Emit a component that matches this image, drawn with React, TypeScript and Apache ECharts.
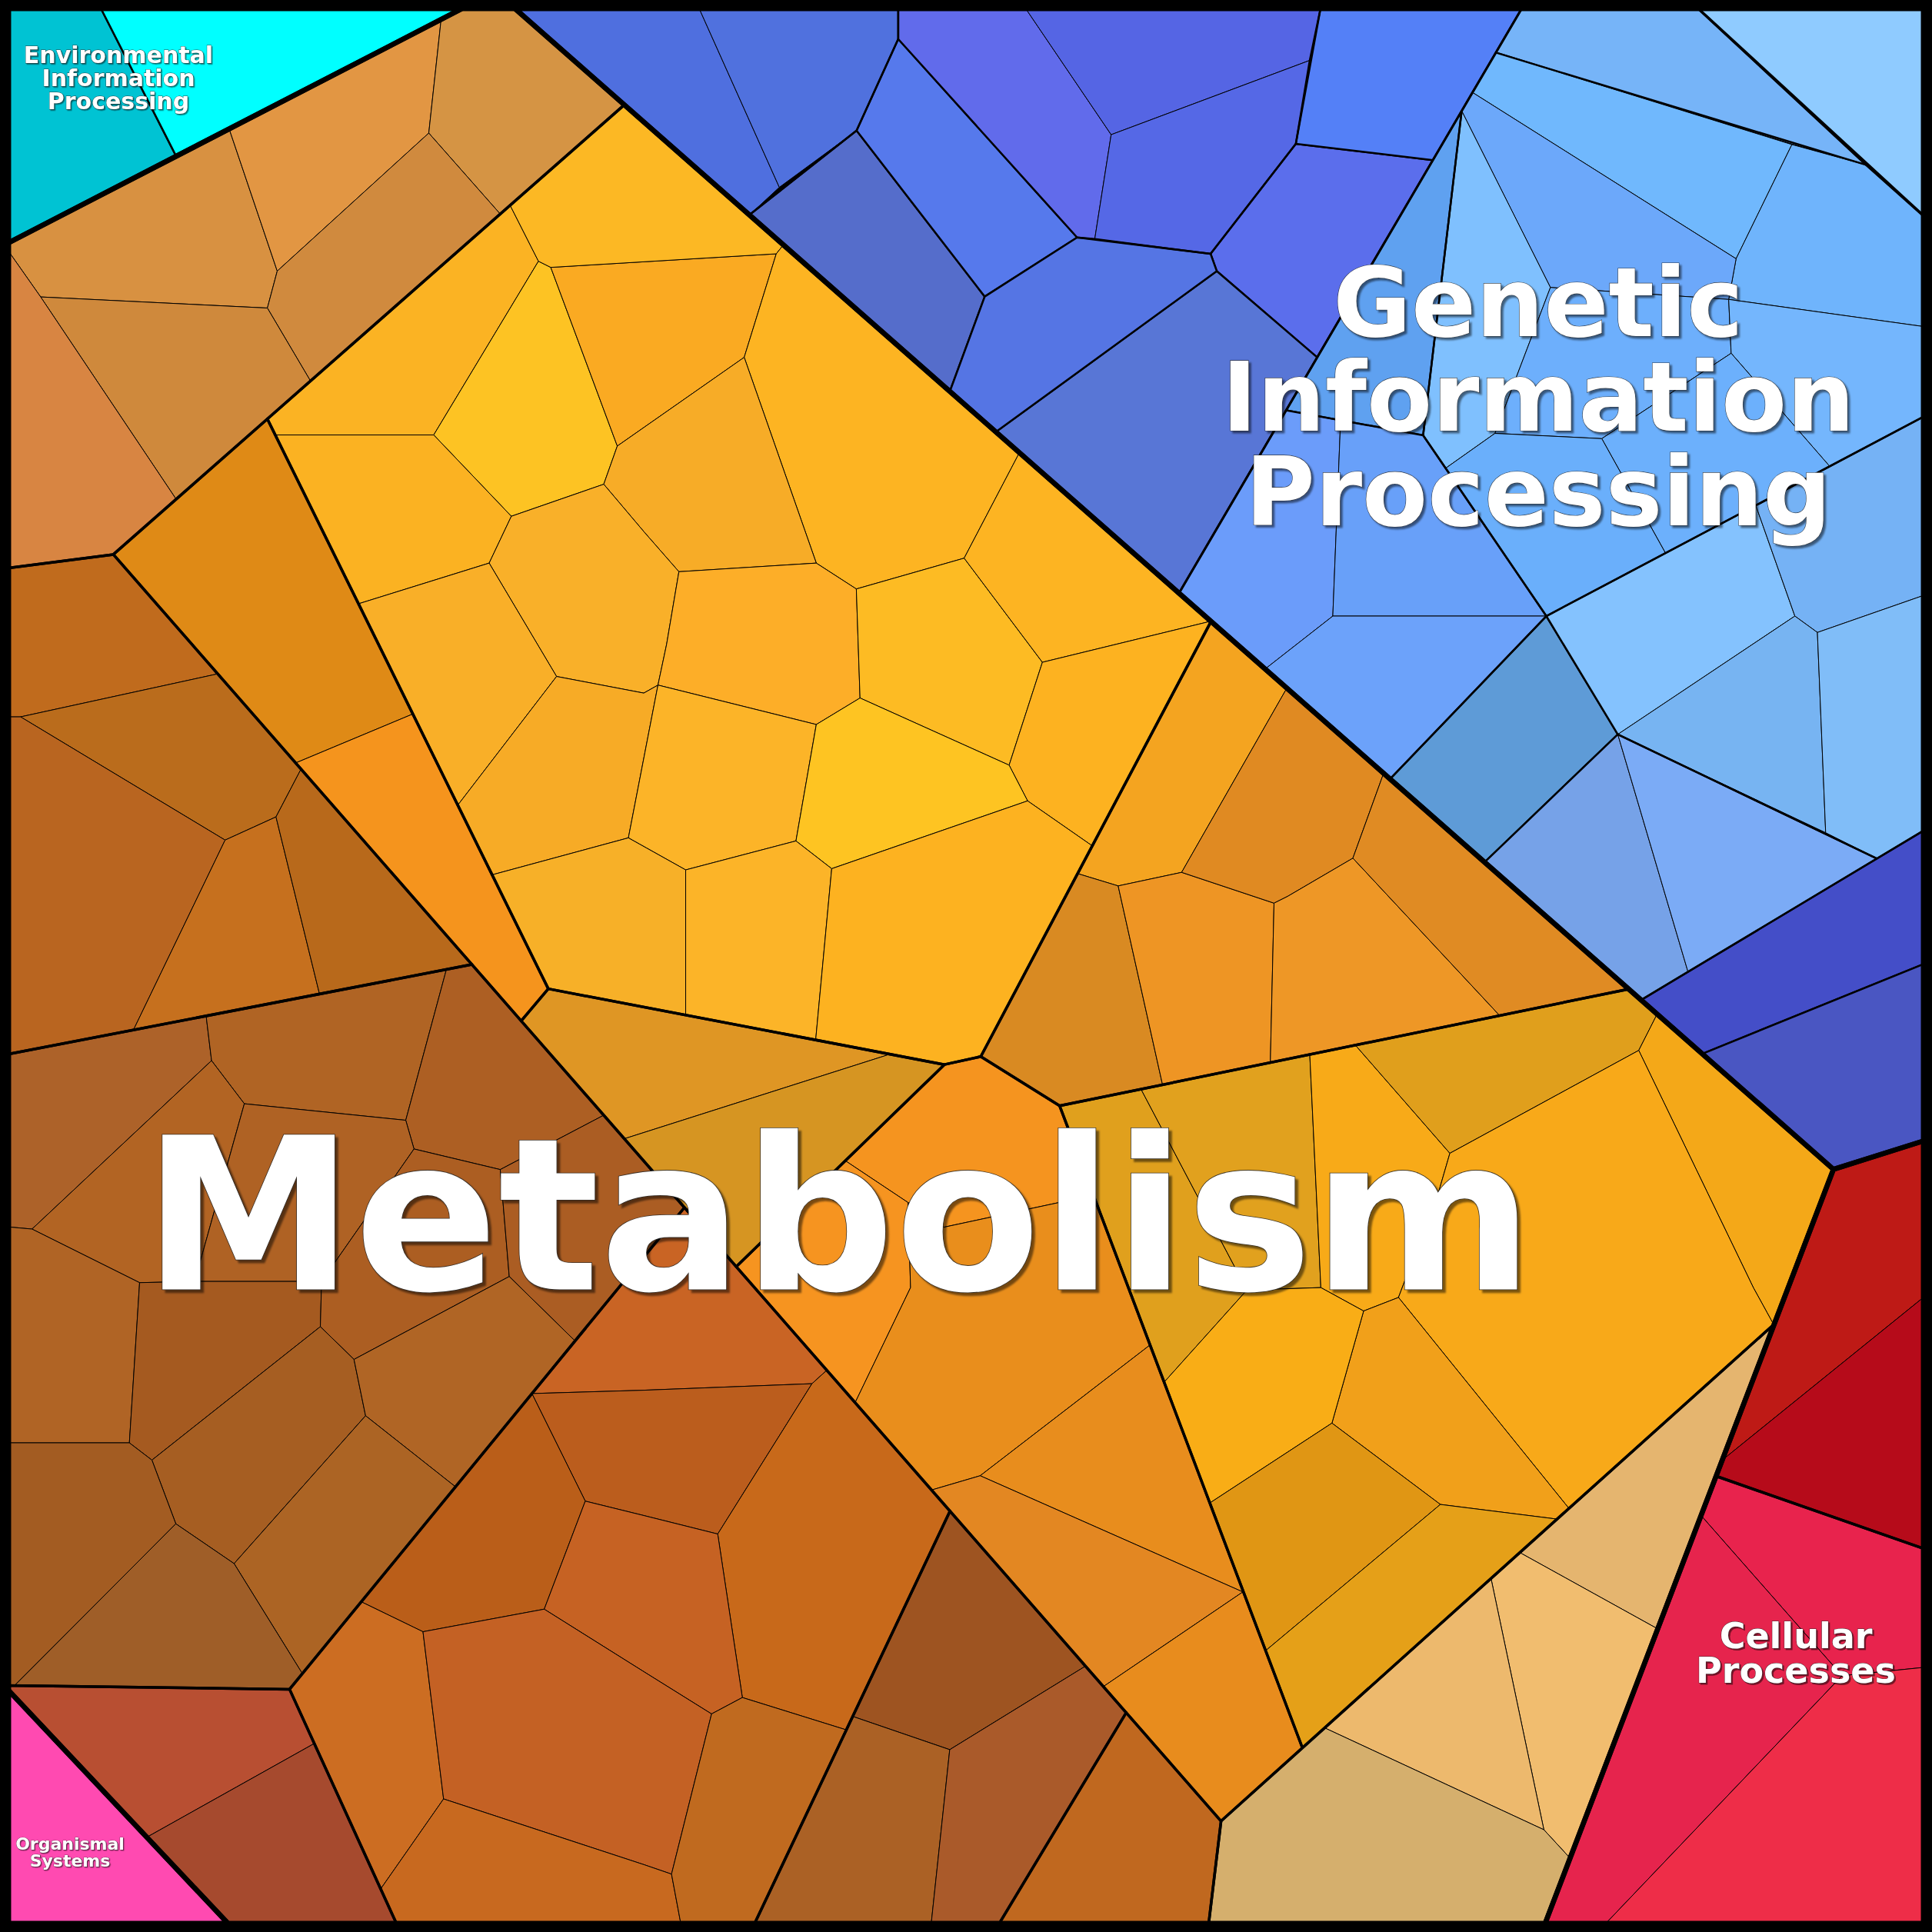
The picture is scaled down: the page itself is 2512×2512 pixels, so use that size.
import React, { useEffect, useRef } from "react";
import * as echarts from "echarts";

type Pt = [number, number];
interface Cell { id: string; pts: Pt[] }
interface Outline { id: string; w: number; pts: Pt[] }

// ---------- data (coordinates, 0..1568 reading scale) ----------
const categoryNames = [
  "Metabolism",
  "Genetic Information Processing",
  "Environmental Information Processing",
  "Cellular Processes",
  "Organismal Systems",
];

const envCells: Cell[] = [
  { id: "env1", pts: [[7, 7], [82, 7], [143, 126.8], [7, 197]] },
  { id: "env2", pts: [[82, 7], [375, 7], [143, 126.8]] },
];

const orgCells: Cell[] = [{ id: "org1", pts: [[7, 1372], [185, 1561], [7, 1561]] }];

const metabolismCells: Cell[] = [
  // A
  { id: "A1", pts: [[7, 197], [186, 104.6], [225, 220], [217, 250], [33, 241], [7, 204]] },
  { id: "A2", pts: [[186, 104.6], [358, 15.8], [348, 108], [225, 220]] },
  { id: "A3", pts: [[358, 15.8], [375, 7], [418, 7], [507, 84.8], [406, 173.7], [348, 108]] },
  { id: "A4", pts: [[348, 108], [406, 173.7], [252, 309.2], [217, 250], [225, 220]] },
  { id: "A5", pts: [[33, 241], [217, 250], [252, 309.2], [143, 405.2]] },
  { id: "A6", pts: [[7, 204], [33, 241], [143, 405.2], [92, 450], [7, 461]] },
  // B
  { id: "B1", pts: [[414, 166.6], [437, 212], [352, 353], [223.2, 353], [217, 340]] },
  { id: "B2", pts: [[437, 212], [447, 217], [501, 362], [490, 393], [415, 419], [352, 353]] },
  { id: "B3", pts: [[447, 217], [630, 206], [604, 290], [501, 362]] },
  { id: "B4", pts: [[507, 84.8], [636, 198.5], [630, 206], [447, 217], [437, 212], [414, 166.6]] },
  { id: "B5", pts: [[636, 198.5], [827.5, 367.1], [782.5, 453], [695, 478], [662.5, 457], [604, 290], [630, 206]] },
  { id: "B6", pts: [[604, 290], [662.5, 457], [551, 464], [523, 432], [490, 393], [501, 362]] },
  { id: "B7", pts: [[223.2, 353], [352, 353], [415, 419], [397, 457], [291, 490]] },
  { id: "B8", pts: [[397, 457], [415, 419], [490, 393], [523, 432], [551, 464], [541, 523], [534, 556], [522.5, 562.5], [451.7, 549]] },
  { id: "B9", pts: [[291, 490], [397, 457], [451.7, 549], [371.5, 653.5]] },
  { id: "B10", pts: [[451.7, 549], [522.5, 562.5], [534, 556], [510, 680], [399.4, 710], [371.5, 653.5]] },
  { id: "B11", pts: [[551, 464], [662.5, 457], [695, 478], [698, 566.5], [662.5, 588], [534, 556], [541, 523]] },
  { id: "B12", pts: [[695, 478], [782.5, 453], [846, 537.5], [819, 621], [698, 566.5]] },
  { id: "B13", pts: [[782.5, 453], [827.5, 367.1], [983, 504.1], [846, 537.5]] },
  { id: "B14", pts: [[846, 537.5], [983, 504.1], [886.5, 686.5], [834, 650], [819, 621]] },
  { id: "B15", pts: [[534, 556], [662.5, 588], [646, 682.5], [556.5, 706], [510, 680]] },
  { id: "B16", pts: [[662.5, 588], [698, 566.5], [819, 621], [834, 650], [675, 705], [646, 682.5]] },
  { id: "B17", pts: [[399.4, 710], [510, 680], [556.5, 706], [556.5, 824], [523, 817.5], [445, 802.5]] },
  { id: "B18", pts: [[556.5, 706], [646, 682.5], [675, 705], [662, 844], [556.5, 824]] },
  { id: "B19", pts: [[675, 705], [834, 650], [886.5, 686.5], [874.6, 709], [796, 857.5], [766.5, 864], [722.5, 855.5], [662, 844]] },
  // C
  { id: "C1", pts: [[92, 450], [217, 340], [335, 579.5], [240, 619.2]] },
  { id: "C2", pts: [[240, 619.2], [335, 579.5], [445, 802.5], [423, 828.5]] },
  // D
  { id: "D1", pts: [[983, 504.1], [1044.5, 558.3], [959, 708], [907.5, 719], [874.6, 709], [886.5, 686.5]] },
  { id: "D2", pts: [[874.6, 709], [907.5, 719], [943.5, 880.3], [860, 897.5], [796, 857.5]] },
  { id: "D3", pts: [[907.5, 719], [959, 708], [1034, 733], [1031, 862.3], [943.5, 880.3]] },
  { id: "D4", pts: [[1044.5, 558.3], [1123, 627.4], [1098, 696.5], [1045, 727.5], [1034, 733], [959, 708]] },
  { id: "D5", pts: [[1034, 733], [1045, 727.5], [1098, 696.5], [1217, 824.1], [1031, 862.3]] },
  { id: "D6", pts: [[1123, 627.4], [1322, 802.7], [1217, 824.1], [1098, 696.5]] },
  // E
  { id: "E1", pts: [[423, 828.5], [445, 802.5], [523, 817.5], [662, 844], [722.5, 855.5], [506.7, 924.2]] },
  { id: "E2", pts: [[506.7, 924.2], [722.5, 855.5], [766.5, 864], [686, 942], [597.5, 1028]] },
  // F
  { id: "F1", pts: [[686, 942], [766.5, 864], [796, 857.5], [860, 897.5], [887.3, 970], [766, 996], [737, 976]] },
  { id: "F2", pts: [[597.5, 1028], [686, 942], [737, 976], [739, 1045], [694, 1138.4]] },
  { id: "F3", pts: [[737, 976], [766, 996], [887.3, 970], [933.2, 1091.7], [795.5, 1197.7], [756, 1209.3], [694, 1138.4], [739, 1045]] },
  { id: "F4", pts: [[795.5, 1197.7], [933.2, 1091.7], [1008.7, 1292]] },
  { id: "F5", pts: [[756, 1209.3], [795.5, 1197.7], [1008.7, 1292], [895.5, 1368.8]] },
  { id: "F6", pts: [[895.5, 1368.8], [1008.7, 1292], [1057, 1418.5], [991, 1478]] },
  // G
  { id: "G1", pts: [[860, 897.5], [926, 883.9], [1012, 1047], [944.6, 1122]] },
  { id: "G2", pts: [[926, 883.9], [1063, 855.8], [1072, 1045], [1012, 1047]] },
  { id: "G3", pts: [[1063, 855.8], [1100, 848.2], [1176.7, 936], [1168, 966], [1135, 1053], [1106.7, 1064], [1072, 1045]] },
  { id: "G4", pts: [[1100, 848.2], [1322, 802.7], [1345, 822.9], [1330, 852.5], [1176.7, 936]] },
  { id: "G5", pts: [[1345, 822.9], [1488, 949], [1439.5, 1075], [1423, 1045], [1330, 852.5]] },
  { id: "G6", pts: [[1176.7, 936], [1330, 852.5], [1423, 1045], [1439.5, 1075], [1273, 1223.8], [1135, 1053], [1168, 966]] },
  { id: "G7", pts: [[1135, 1053], [1273, 1223.8], [1263, 1232.8], [1169, 1221], [1081, 1155], [1106.7, 1064]] },
  { id: "G8", pts: [[944.6, 1122], [1012, 1047], [1072, 1045], [1106.7, 1064], [1081, 1155], [981.6, 1220]] },
  { id: "G9", pts: [[981.6, 1220], [1081, 1155], [1169, 1221], [1026.8, 1340]] },
  { id: "G10", pts: [[1026.8, 1340], [1169, 1221], [1263, 1232.8], [1057, 1418.5]] },
  // H
  { id: "H1", pts: [[1233, 1259.8], [1439.5, 1075], [1345.4, 1322]] },
  { id: "H2", pts: [[1210, 1280.5], [1233, 1259.8], [1345.4, 1322], [1274.2, 1508], [1253, 1485]] },
  { id: "H3", pts: [[1075, 1402.3], [1210, 1280.5], [1253, 1485]] },
  { id: "H4", pts: [[991, 1478], [1075, 1402.3], [1253, 1485], [1274.2, 1508], [1254, 1561], [981, 1561]] },
  // I
  { id: "I1", pts: [[7, 461], [92, 450], [176.7, 546.9], [16.7, 581.8], [7, 581.8]] },
  { id: "I2", pts: [[16.7, 581.8], [176.7, 546.9], [244.3, 624.2], [224, 663], [182.7, 681.8]] },
  { id: "I3", pts: [[7, 581.8], [16.7, 581.8], [182.7, 681.8], [108.3, 835.9], [7, 855.5]] },
  { id: "I4", pts: [[182.7, 681.8], [224, 663], [259.3, 806.7], [108.3, 835.9]] },
  { id: "I5", pts: [[224, 663], [244.3, 624.2], [383, 782.8], [259.3, 806.7]] },
  // J
  { id: "J1", pts: [[7, 855.5], [167.3, 824.5], [171.7, 860.8], [26, 997.5], [7, 995.8]] },
  { id: "J2", pts: [[167.3, 824.5], [362.3, 786.8], [329.3, 909.2], [198.3, 895.8], [171.7, 860.8]] },
  { id: "J3", pts: [[362.3, 786.8], [383, 782.8], [490, 905.1], [406, 949.2], [336, 932.5], [329.3, 909.2]] },
  { id: "J4", pts: [[26, 997.5], [171.7, 860.8], [198.3, 895.8], [158, 1040], [113.3, 1041]] },
  { id: "J5", pts: [[198.3, 895.8], [329.3, 909.2], [336, 932.5], [261, 1040], [158, 1040]] },
  { id: "J6", pts: [[7, 995.8], [26, 997.5], [113.3, 1041], [105, 1171], [7, 1171]] },
  { id: "J7", pts: [[113.3, 1041], [158, 1040], [261, 1040], [260, 1076.7], [123.3, 1185], [105, 1171]] },
  { id: "J8", pts: [[336, 932.5], [406, 949.2], [413.3, 1036], [287.3, 1103.3], [260, 1076.7], [261, 1040]] },
  { id: "J9", pts: [[406, 949.2], [490, 905.1], [555.5, 980], [466.7, 1088.3], [413.3, 1036]] },
  { id: "J10", pts: [[260, 1076.7], [287.3, 1103.3], [296.7, 1149], [190, 1269], [142.7, 1236.7], [123.3, 1185]] },
  { id: "J11", pts: [[287.3, 1103.3], [413.3, 1036], [466.7, 1088.3], [369.7, 1206.7], [296.7, 1149]] },
  { id: "J12", pts: [[296.7, 1149], [369.7, 1206.7], [245.4, 1358.3], [190, 1269]] },
  { id: "J13", pts: [[7, 1171], [105, 1171], [123.3, 1185], [142.7, 1236.7], [11.7, 1368.1], [7, 1368]] },
  { id: "J14", pts: [[142.7, 1236.7], [190, 1269], [245.4, 1358.3], [235, 1371], [11.7, 1368.1]] },
  // K
  { id: "K1", pts: [[7, 1368], [235, 1371], [255.1, 1415], [119.3, 1491], [7, 1372]] },
  { id: "K2", pts: [[119.3, 1491], [255.1, 1415], [321.7, 1561], [185, 1561]] },
  // L
  { id: "L1", pts: [[555.5, 980], [671, 1112.1], [659, 1123], [522.5, 1128.3], [431.7, 1131]] },
  { id: "L2", pts: [[431.7, 1131], [522.5, 1128.3], [659, 1123], [582.5, 1245], [522.5, 1230], [475, 1218.3]] },
  { id: "L3", pts: [[659, 1123], [671, 1112.1], [771, 1226.4], [687, 1404], [602.5, 1377.7], [582.5, 1245]] },
  { id: "L4", pts: [[431.7, 1131], [475, 1218.3], [441.7, 1306], [343.3, 1324.3], [293.2, 1300]] },
  { id: "L5", pts: [[475, 1218.3], [522.5, 1230], [582.5, 1245], [602.5, 1377.7], [577.5, 1391], [522.5, 1356.7], [441.7, 1306]] },
  { id: "L6", pts: [[293.2, 1300], [343.3, 1324.3], [360, 1460], [309, 1533], [235, 1371], [245.4, 1358.3]] },
  { id: "L7", pts: [[343.3, 1324.3], [441.7, 1306], [522.5, 1356.7], [577.5, 1391], [545, 1521], [522.5, 1513.3], [360, 1460]] },
  { id: "L8", pts: [[360, 1460], [522.5, 1513.3], [545, 1521], [552.5, 1561], [321.7, 1561], [309, 1533]] },
  { id: "L9", pts: [[577.5, 1391], [602.5, 1377.7], [687, 1404], [612.5, 1561], [552.5, 1561], [545, 1521]] },
  // M, N
  { id: "M1", pts: [[771, 1226.4], [881, 1352.2], [770.8, 1420], [692, 1393]] },
  { id: "M2", pts: [[692, 1393], [770.8, 1420], [755.8, 1561], [612.5, 1561]] },
  { id: "M3", pts: [[770.8, 1420], [881, 1352.2], [914, 1390], [811, 1561], [755.8, 1561]] },
  { id: "N1", pts: [[914, 1390], [991, 1478], [981, 1561], [811, 1561]] },
];

const geneticCells: Cell[] = [
  { id: "P1", pts: [[418, 7], [567.5, 7], [632.5, 152], [608.5, 174.2]] },
  { id: "P2", pts: [[567.5, 7], [729, 7], [729, 31.7], [695.2, 106], [632.5, 152]] },
  { id: "Q", pts: [[608.5, 174.2], [695.2, 106], [799.2, 240.7], [771, 317.4]] },
  { id: "R", pts: [[695.2, 106], [729, 31.7], [874.2, 192.7], [799.2, 240.7]] },
  { id: "S1", pts: [[729, 7], [832.5, 7], [901.8, 109.3], [888.5, 194], [874.2, 192.7], [729, 31.7]] },
  { id: "S2", pts: [[832.5, 7], [1071.7, 7], [1063, 49], [901.8, 109.3]] },
  { id: "S3", pts: [[901.8, 109.3], [1063, 49], [1051.7, 116.7], [982.5, 206], [888.5, 194]] },
  { id: "S5", pts: [[987.5, 220], [982.5, 206], [1051.7, 116.7], [1163, 130], [1069, 290]] },
  { id: "S6", pts: [[1071.7, 7], [1235, 7], [1163, 130], [1051.7, 116.7], [1063, 49]] },
  { id: "T", pts: [[808.5, 350.4], [987.5, 220], [1069, 290], [1043.8, 333], [957, 481.2]] },
  { id: "U", pts: [[771, 317.4], [799.2, 240.7], [874.2, 192.7], [888.5, 194], [982.5, 206], [987.5, 220], [808.5, 350.4]] },
  { id: "W1", pts: [[1378.3, 7], [1561, 7], [1561, 175], [1515, 134]] },
  { id: "W2", pts: [[1235, 7], [1378.3, 7], [1515, 134], [1454.3, 117.3], [1214, 42.7]] },
  { id: "W3", pts: [[1214, 42.7], [1454.3, 117.3], [1409, 210], [1195, 75]] },
  { id: "W4", pts: [[1454.3, 117.3], [1515, 134], [1561, 175], [1561, 265], [1403, 243], [1409, 210]] },
  { id: "W5", pts: [[1195, 75], [1409, 210], [1403, 243], [1258.3, 233.3], [1186.3, 90]] },
  { id: "W6", pts: [[1186.3, 90], [1258.3, 233.3], [1213.3, 351.7], [1173.3, 380], [1155, 353.3]] },
  { id: "W7", pts: [[1258.3, 233.3], [1403, 243], [1405, 286.7], [1300, 356], [1213.3, 351.7]] },
  { id: "W8", pts: [[1403, 243], [1561, 265], [1561, 338.3], [1485, 378.5], [1405, 286.7]] },
  { id: "W9", pts: [[1405, 286.7], [1485, 378.5], [1351.7, 448.9], [1300, 356]] },
  { id: "W10", pts: [[1213.3, 351.7], [1300, 356], [1351.7, 448.9], [1255, 500], [1173.3, 380]] },
  { id: "W11", pts: [[1186.3, 90], [1155, 353.3], [1043.8, 333]] },
  { id: "X1", pts: [[1043.8, 333], [1088, 341.5], [1081.7, 500], [1027, 542.8], [957, 481.2]] },
  { id: "X2", pts: [[1088, 341.5], [1155, 353.3], [1173.3, 380], [1255, 500], [1081.7, 500]] },
  { id: "X3", pts: [[1027, 542.8], [1081.7, 500], [1255, 500], [1128.3, 632.1]] },
  { id: "X4", pts: [[1128.3, 632.1], [1255, 500], [1313, 596], [1205, 699.6]] },
  { id: "X5", pts: [[1205, 699.6], [1313, 596], [1370, 788.8], [1332, 811.5]] },
  { id: "X6", pts: [[1313, 596], [1481.7, 675.8], [1523.3, 696.8], [1370, 788.8]] },
  { id: "X7", pts: [[1255, 500], [1425, 410.2], [1456.7, 500], [1313, 596]] },
  { id: "X8", pts: [[1425, 410.2], [1561, 338.3], [1561, 483.3], [1475, 513.3], [1456.7, 500]] },
  { id: "X9", pts: [[1456.7, 500], [1475, 513.3], [1481.7, 675.8], [1313, 596]] },
  { id: "X10", pts: [[1475, 513.3], [1561, 483.3], [1561, 674.2], [1523.3, 696.8], [1481.7, 675.8]] },
  { id: "Y1", pts: [[1332, 811.5], [1561, 674.2], [1561, 782.5], [1381.7, 855.2]] },
  { id: "Y2", pts: [[1381.7, 855.2], [1561, 782.5], [1561, 926], [1488, 949]] },
];

const cellularCells: Cell[] = [
  { id: "Z1", pts: [[1488, 949], [1561, 926], [1561, 1053], [1397.8, 1185]] },
  { id: "Z2", pts: [[1397.8, 1185], [1561, 1053], [1561, 1256.7], [1392.8, 1198]] },
  { id: "Z3", pts: [[1392.8, 1198], [1561, 1256.7], [1561, 1353.3], [1495, 1360], [1380.6, 1230]] },
  { id: "Z4", pts: [[1380.6, 1230], [1495, 1360], [1303.3, 1561], [1254, 1561]] },
  { id: "Z5", pts: [[1495, 1360], [1561, 1353.3], [1561, 1561], [1303.3, 1561]] },
];

const cellColors: Record<string, string> = {
  env1: "#00C3D3", env2: "#00FFFF", org1: "#FF4AB1",
  A1: "#D89141", A2: "#E29643", A3: "#D59444", A4: "#D08A3E", A5: "#CF893C", A6: "#D88542",
  B1: "#FBB323", B2: "#FDC323", B3: "#FAAA22", B4: "#FCB824", B5: "#FDB422", B6: "#F7AC27",
  B7: "#FBB222", B8: "#F9B029", B9: "#F9AF28", B10: "#F7AB26", B11: "#FDAE28", B12: "#FDBB23",
  B13: "#FDB422", B14: "#FDB220", B15: "#FCB428", B16: "#FEC422", B17: "#F7B028", B18: "#FCB428",
  B19: "#FDB220",
  C1: "#DF8A16", C2: "#F5941D",
  D1: "#F4A420", D2: "#D98A22", D3: "#EE9524", D4: "#E08A22", D5: "#EE9726", D6: "#E08B23",
  E1: "#DF9624", E2: "#D69522",
  F1: "#F5941F", F2: "#F69420", F3: "#E98E1C", F4: "#E88D1D", F5: "#E38722", F6: "#E88C1D",
  G1: "#E0A01D", G2: "#E1A11E", G3: "#F8AA18", G4: "#E09F1C", G5: "#F4A818", G6: "#F8A919",
  G7: "#F1A01A", G8: "#F9AD16", G9: "#E09614", G10: "#E5A018",
  H1: "#E5B56F", H2: "#F1BD6F", H3: "#EDB96D", H4: "#D5AF6D",
  I1: "#C06B1D", I2: "#BA6C1C", I3: "#B96520", I4: "#C6701E", I5: "#B8691B",
  J1: "#AD6229", J2: "#B06424", J3: "#AD5F23", J4: "#B26423", J5: "#AF6224", J6: "#B06425",
  J7: "#A55A20", J8: "#AC5E22", J9: "#AB5D23", J10: "#A65E22", J11: "#B06525", J12: "#AC6424",
  J13: "#A35C22", J14: "#9F5E28",
  K1: "#B84F32", K2: "#A64A2E",
  L1: "#C96424", L2: "#BB5D1D", L3: "#C8691A", L4: "#BA5E19", L5: "#C66223", L6: "#CC6D22",
  L7: "#C46124", L8: "#C8691F", L9: "#C06A1F",
  M1: "#9E5421", M2: "#AB6125", M3: "#AA5A2A", N1: "#C0681F",
  P1: "#4F6FDF", P2: "#5071DE", Q: "#556DCB", R: "#5679EC", S1: "#616BEB", S2: "#5565E4",
  S3: "#5568E6", S5: "#5B6EEC", S6: "#5480F7", T: "#5876D6", U: "#5575E4",
  W1: "#8FCBFF", W2: "#76B4F8", W3: "#70B8FD", W4: "#6FB4FC", W5: "#6CA8FA", W6: "#7FC0FE",
  W7: "#6DAFFC", W8: "#74B6FD", W9: "#6CB0FC", W10: "#6AAFFB", W11: "#5FA1F0",
  X1: "#6B9CFA", X2: "#68A0F9", X3: "#6CA2FA", X4: "#5E9BD7", X5: "#76A2E8", X6: "#7BABF6",
  X7: "#84C2FE", X8: "#75B2F5", X9: "#77B4F2", X10: "#80BDF8", Y1: "#444EC8", Y2: "#4A56C2",
  Z1: "#BE1A16", Z2: "#B60B1A", Z3: "#E8234D", Z4: "#E6244D", Z5: "#EE2D48",
};

// cells that form a sub-group of their own (outlined a little heavier)
const soloCells = ["env1", "env2", "Q", "R", "S5", "S6", "T", "U", "W1", "W2", "W11", "X4", "Y1", "Y2"];

const level2Outlines: Outline[] = [
  { id: "gA", w: 3.5, pts: [[7, 197], [375, 7], [418, 7], [507, 84.8], [92, 450], [7, 461]] },
  { id: "gB", w: 3.5, pts: [[507, 84.8], [983, 504.1], [796, 857.5], [766.5, 864], [445, 802.5], [217, 340]] },
  { id: "gC", w: 3.5, pts: [[92, 450], [217, 340], [445, 802.5], [423, 828.5]] },
  { id: "gD", w: 3.5, pts: [[983, 504.1], [1322, 802.7], [860, 897.5], [796, 857.5]] },
  { id: "gE", w: 3.5, pts: [[423, 828.5], [445, 802.5], [766.5, 864], [597.5, 1028]] },
  { id: "gF", w: 3.5, pts: [[766.5, 864], [796, 857.5], [860, 897.5], [1057, 1418.5], [991, 1478], [597.5, 1028]] },
  { id: "gG", w: 3.5, pts: [[860, 897.5], [1322, 802.7], [1488, 949], [1439.5, 1075], [1057, 1418.5]] },
  { id: "gH", w: 3.5, pts: [[991, 1478], [1439.5, 1075], [1254, 1561], [981, 1561]] },
  { id: "gI", w: 3.5, pts: [[7, 461], [92, 450], [383, 782.8], [7, 855.5]] },
  { id: "gJ", w: 3.5, pts: [[7, 855.5], [383, 782.8], [555.5, 980], [235, 1371], [7, 1368]] },
  { id: "gK", w: 3.5, pts: [[7, 1368], [235, 1371], [321.7, 1561], [185, 1561], [7, 1372]] },
  { id: "gL", w: 3.5, pts: [[555.5, 980], [771, 1226.4], [612.5, 1561], [321.7, 1561], [235, 1371]] },
  { id: "gM", w: 3.5, pts: [[771, 1226.4], [914, 1390], [811, 1561], [612.5, 1561]] },
  { id: "gN", w: 3.5, pts: [[914, 1390], [991, 1478], [981, 1561], [811, 1561]] },
  { id: "gRoyal", w: 3, pts: [[418, 7], [1235, 7], [957, 481.2]] },
  { id: "gP", w: 2.5, pts: [[418, 7], [729, 7], [729, 31.7], [695.2, 106], [608.5, 174.2]] },
  { id: "gS", w: 2.5, pts: [[729, 31.7], [729, 7], [1071.7, 7], [1051.7, 116.7], [982.5, 206], [874.2, 192.7]] },
  { id: "gW", w: 2.5, pts: [[1214, 42.7], [1515, 134], [1561, 175], [1561, 338.3], [1255, 500], [1173.3, 380], [1155, 353.3], [1186.3, 90], [1195, 75]] },
  { id: "gX1", w: 2.5, pts: [[1043.8, 333], [1155, 353.3], [1255, 500], [1128.3, 632.1], [957, 481.2]] },
  { id: "gX5", w: 2.5, pts: [[1205, 699.6], [1313, 596], [1523.3, 696.8], [1332, 811.5]] },
  { id: "gX7", w: 2.5, pts: [[1255, 500], [1561, 338.3], [1561, 674.2], [1523.3, 696.8], [1313, 596]] },
  { id: "gTop", w: 3.5, pts: [[1378.3, 7], [1515, 134], [1561, 175]] },
  { id: "gZ1", w: 3.5, pts: [[1488, 949], [1561, 926], [1561, 1256.7], [1392.8, 1198]] },
  { id: "gZ3", w: 3.5, pts: [[1392.8, 1198], [1561, 1256.7], [1561, 1561], [1254, 1561]] },
];

const level1Outlines: Outline[] = [
  { id: "Environmental Information Processing", w: 6.5, pts: [[7, 7], [375, 7], [7, 197]] },
  { id: "Metabolism", w: 6.5, pts: [[7, 197], [375, 7], [418, 7], [1488, 949], [1254, 1561], [185, 1561], [7, 1372]] },
  { id: "Genetic Information Processing", w: 6.5, pts: [[418, 7], [1561, 7], [1561, 926], [1488, 949]] },
  { id: "Cellular Processes", w: 6.5, pts: [[1488, 949], [1561, 926], [1561, 1561], [1254, 1561]] },
  { id: "Organismal Systems", w: 6.5, pts: [[7, 1372], [185, 1561], [7, 1561]] },
];

// ---------- layout (pixels of the 2512 canvas) ----------
const SIZE = 2512;
const SPAN = 1568;
const labelLayout = [
  { name: "Metabolism", x: 1090, y: 1581, size: 276, lh: 276, stroke: 1.6, shadow: 4 },
  { name: "Genetic Information Processing", x: 2000, y: 517, size: 124, lh: 123, stroke: 1.2, shadow: 3 },
  { name: "Environmental Information Processing", x: 154, y: 101.3, size: 30, lh: 30, stroke: 0.8, shadow: 1.5 },
  { name: "Cellular Processes", x: 2335, y: 2149.5, size: 46, lh: 45, stroke: 0.9, shadow: 2 },
  { name: "Organismal Systems", x: 91, y: 2408.2, size: 22, lh: 21.7, stroke: 0.7, shadow: 1.2 },
];

const allCells: Cell[] = [...envCells, ...metabolismCells, ...geneticCells, ...cellularCells, ...orgCells];

function centroid(pts: Pt[]): Pt {
  let x = 0, y = 0;
  pts.forEach((p) => { x += p[0]; y += p[1]; });
  return [x / pts.length, y / pts.length];
}

function polySeries(items: { pts: Pt[] }[], styleOf: (i: number) => any, z: number) {
  return {
    type: "custom",
    coordinateSystem: "cartesian2d",
    clip: false,
    silent: true,
    z,
    data: items.map((it) => centroid(it.pts)),
    renderItem: (params: any, api: any) => {
      const it = items[params.dataIndex];
      return {
        type: "polygon",
        shape: { points: it.pts.map((p) => api.coord(p)) },
        style: styleOf(params.dataIndex),
      };
    },
  };
}

export default function App() {
  const ref = useRef<HTMLDivElement>(null);
  useEffect(() => {
    document.body.style.margin = "0";
    if (!ref.current) return;
    const chart = echarts.init(ref.current, undefined, { renderer: "svg" });
    const graphics = labelLayout.map((lab) => ({
      type: "text",
      x: lab.x,
      y: lab.y,
      z: 100,
      style: {
        text: lab.name.split(" ").join("\n"),
        font: `bold ${lab.size}px "DejaVu Sans"`,
        lineHeight: lab.lh,
        fill: "#ffffff",
        stroke: "rgba(40,40,40,0.85)",
        lineWidth: lab.stroke,
        align: "center",
        verticalAlign: "middle",
        textAlign: "center",
        textVerticalAlign: "middle",
        textShadowColor: "rgba(0,0,0,0.5)",
        textShadowBlur: lab.shadow * 0.6,
        textShadowOffsetX: lab.shadow,
        textShadowOffsetY: lab.shadow,
      },
    }));
    chart.setOption({
      animation: false,
      backgroundColor: "#000000",
      grid: { left: 0, right: 0, top: 0, bottom: 0 },
      xAxis: { type: "value", min: 0, max: SPAN, show: false },
      yAxis: { type: "value", min: 0, max: SPAN, inverse: true, show: false },
      tooltip: { show: false },
      series: [
        polySeries(allCells, (i) => ({
          fill: cellColors[allCells[i].id],
          stroke: "#000000",
          lineWidth: soloCells.includes(allCells[i].id) ? 2.5 : 1,
          lineJoin: "round",
        }), 1),
        polySeries(level2Outlines, (i) => ({
          fill: "none",
          stroke: "#000000",
          lineWidth: level2Outlines[i].w,
          lineJoin: "round",
        }), 2),
        polySeries(level1Outlines, (i) => ({
          fill: "none",
          stroke: "#000000",
          lineWidth: level1Outlines[i].w,
          lineJoin: "round",
        }), 3),
      ],
      graphic: graphics,
    });
    return () => chart.dispose();
  }, []);
  return <div ref={ref} style={{ width: SIZE, height: SIZE }} />;
}
